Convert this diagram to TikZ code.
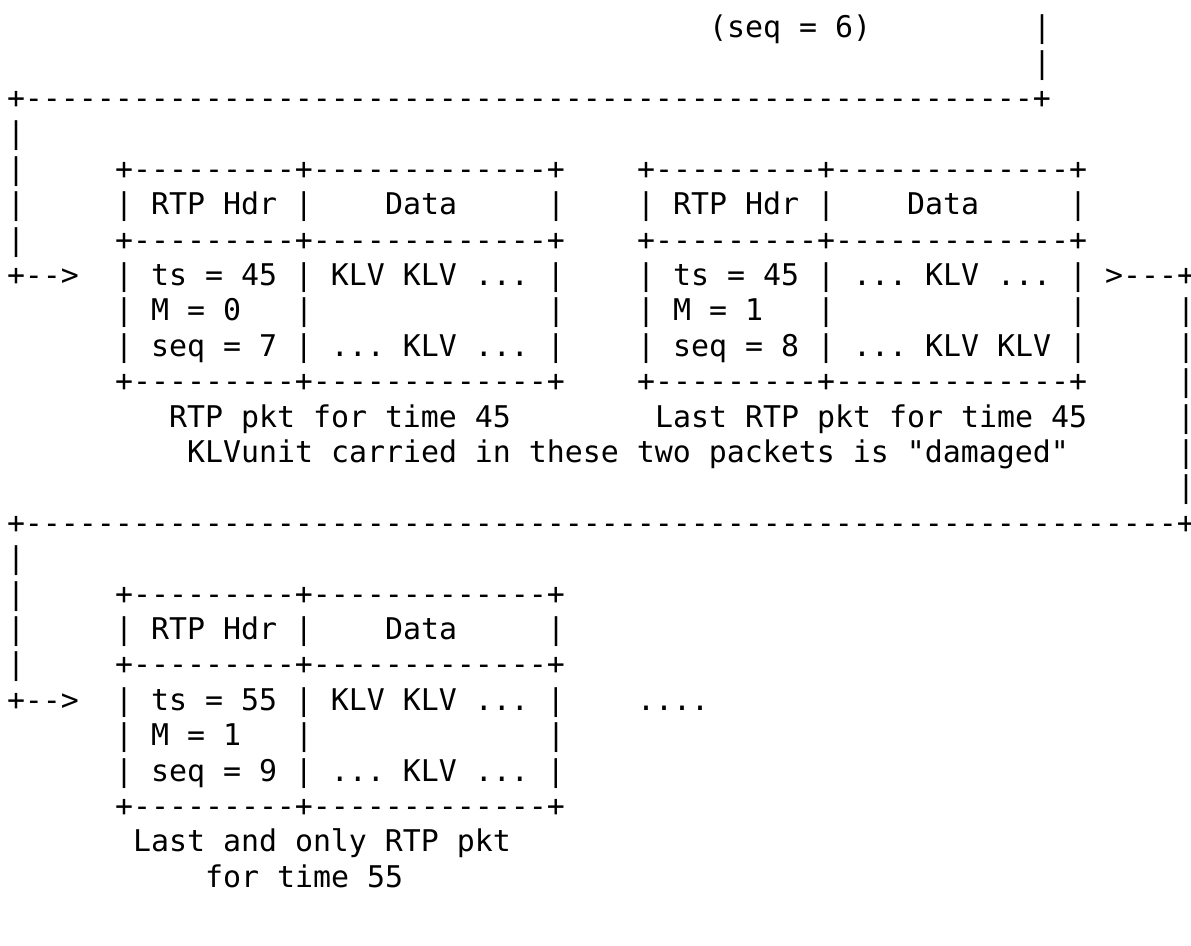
\documentclass[tikz,border=0pt]{standalone}
\usepackage{fontspec}
\setmonofont{DejaVu Sans Mono}
\tikzset{txt/.style={anchor=base west, inner sep=0pt, outer sep=0pt,
  font=\ttfamily\fontsize{29.9pt}{36pt}\selectfont, text=black}}
% \seg{row}{column}{text}
\newcommand\seg[3]{\node[txt] (r#1c#2) at (7pt+18pt*#2, -37.7pt-35.4pt*#1) {#3};}
\begin{document}
\begin{tikzpicture}
\useasboundingbox (0,0) rectangle (1191pt,-945pt);
% top
\seg{0}{39}{(seq = 6)}\seg{0}{57}{|}
\seg{1}{57}{|}
\seg{2}{0}{+--------------------------------------------------------+}
\seg{3}{0}{|}
\seg{4}{0}{|}\seg{4}{6}{+---------+-------------+}\seg{4}{35}{+---------+-------------+}
\seg{5}{0}{|}\seg{5}{6}{| RTP Hdr |}\seg{5}{21}{Data}\seg{5}{30}{|}
\seg{5}{35}{| RTP Hdr |}\seg{5}{50}{Data}\seg{5}{59}{|}
\seg{6}{0}{|}\seg{6}{6}{+---------+-------------+}\seg{6}{35}{+---------+-------------+}
\seg{7}{0}{+-->}\seg{7}{6}{| ts = 45 | KLV KLV ... |}\seg{7}{35}{| ts = 45 | ... KLV ... |}\seg{7}{61}{>---+}
\seg{8}{6}{| M = 0}\seg{8}{16}{|}\seg{8}{30}{|}\seg{8}{35}{| M = 1}\seg{8}{45}{|}\seg{8}{59}{|}\seg{8}{65}{|}
\seg{9}{6}{| seq = 7 | ... KLV ... |}\seg{9}{35}{| seq = 8 | ... KLV KLV |}\seg{9}{65}{|}
\seg{10}{6}{+---------+-------------+}\seg{10}{35}{+---------+-------------+}\seg{10}{65}{|}
\seg{11}{9}{RTP pkt for time 45}\seg{11}{36}{Last RTP pkt for time 45}\seg{11}{65}{|}
\seg{12}{10}{KLVunit carried in these two packets is "damaged"}\seg{12}{65}{|}
\seg{13}{65}{|}
\seg{14}{0}{+----------------------------------------------------------------+}
% bottom
\seg{15}{0}{|}
\seg{16}{0}{|}\seg{16}{6}{+---------+-------------+}
\seg{17}{0}{|}\seg{17}{6}{| RTP Hdr |}\seg{17}{21}{Data}\seg{17}{30}{|}
\seg{18}{0}{|}\seg{18}{6}{+---------+-------------+}
\seg{19}{0}{+-->}\seg{19}{6}{| ts = 55 | KLV KLV ... |}\seg{19}{35}{....}
\seg{20}{6}{| M = 1}\seg{20}{16}{|}\seg{20}{30}{|}
\seg{21}{6}{| seq = 9 | ... KLV ... |}
\seg{22}{6}{+---------+-------------+}
\seg{23}{7}{Last and only RTP pkt}
\seg{24}{11}{for time 55}
\end{tikzpicture}
\end{document}
